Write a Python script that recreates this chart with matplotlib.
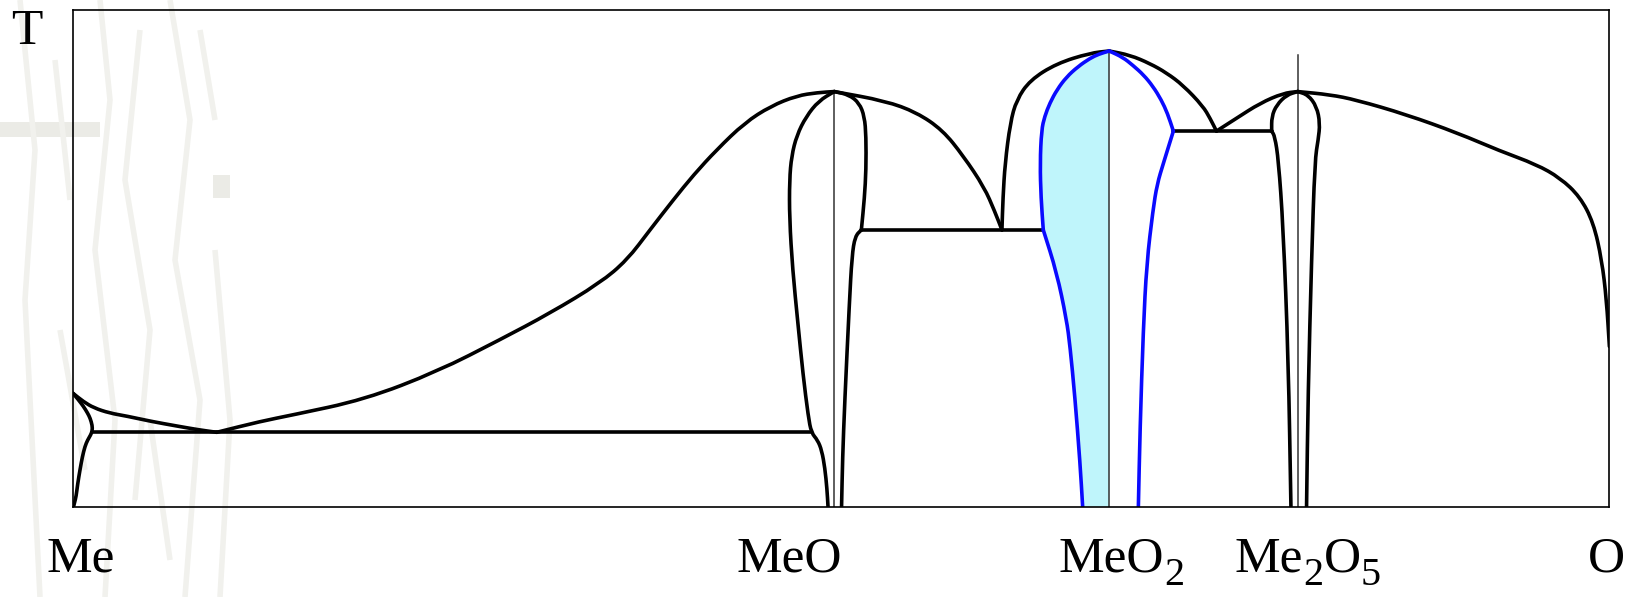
import matplotlib
matplotlib.use("Agg")
import matplotlib.pyplot as plt
from matplotlib.lines import Line2D
from matplotlib.patches import Rectangle, PathPatch
from matplotlib.path import Path

plt.rcParams['font.family'] = ['Liberation Serif', 'DejaVu Serif']

# ---------------- data (composition units 0..1475, temperature units 0..477) ----------------
# Me-rich liquidus (from Me melting point to eutectic)
me_liq_x = [0, 10, 20, 35, 52, 75, 100, 120, 138]
me_liq_T = [109, 101, 95, 90, 87, 82, 77.5, 74, 71.5]
# Me solid-solution boundary
me_ss_x = [0, 5, 10, 14, 16.5, 18.5, 18.5, 17, 14, 11.5, 9, 6.8, 4.5, 3, 1.5, 0.5]
me_ss_T = [109, 103, 96.5, 90, 85, 78, 73, 69, 64, 58, 48, 36, 22, 10, 4, 0]
# Me - MeO eutectic horizontal
eut1_x = [18.5, 709]
eut1_T = [71.5, 71.5]
# liquidus eutectic -> MeO
liq_meo_l_x = [138, 180, 210, 280, 350, 410, 458, 506, 532, 554, 576.5, 596, 618, 645, 670, 695, 715, 731]
liq_meo_l_T = [71.5, 82, 88, 103, 130, 160.5, 186, 215, 237, 266, 295, 319, 343, 369, 385, 395, 398, 399]
# MeO left phase boundary
meo_l_x = [731, 716, 704, 695, 690, 688, 688, 691, 696, 701, 706, 709, 715, 719, 722, 724, 725]
meo_l_T = [399, 390, 375, 357, 337, 314, 277, 228, 177, 127, 87, 71, 64, 54, 37, 17, 0]
# MeO right phase boundary (kink at the peritectic line, index 7)
meo_r_x = [731, 745, 755, 760, 761.5, 761.5, 760, 757, 751, 748, 745.5, 741, 739, 738]
meo_r_T = [399, 396, 388, 375, 356, 324, 297, 266, 260, 241, 196, 100, 47, 0]
# liquidus MeO -> eutectic
liq_meo_r_x = [731, 780, 810, 835, 855, 875, 885, 892]
liq_meo_r_T = [399, 390, 379, 362, 337, 307, 284, 266]
# MeO - MeO2 horizontal
eut2_x = [757, 931.7]
eut2_T = [266, 266]
# liquidus eutectic -> MeO2
liq_meo2_l_x = [892, 893, 895, 900, 906, 919, 944.5, 976.6, 995]
liq_meo2_l_T = [266, 297, 330, 369, 391, 410, 426, 436, 438]
# liquidus MeO2 -> eutectic
liq_meo2_r_x = [995, 1015, 1034, 1050, 1066, 1085, 1092, 1098]
liq_meo2_r_T = [438, 434, 426, 417, 405, 385, 373, 361]
# MeO2 phase boundaries (blue); kinks at index 11 (left) and 7 (right)
meo2_l_x = [995, 985, 976.6, 965, 954, 945, 938, 933, 930, 928.6, 929.5, 931.7, 944.6, 954, 957.4, 962, 967, 969.5]
meo2_l_T = [438, 435, 431, 423, 413, 401, 388, 375, 362, 330, 297, 266, 225, 180, 154, 106, 42, 0]
meo2_r_x = [995, 1008, 1018, 1028, 1037, 1045, 1051, 1056.6, 1047, 1041, 1037, 1031, 1027.7, 1024.6, 1023]
meo2_r_T = [438, 432, 424, 415, 404, 391, 378, 361, 330, 310, 285, 234, 170, 74, 0]
# MeO2 - Me2O5 horizontal
eut3_x = [1056.6, 1151]
eut3_T = [361, 361]
# liquidus eutectic -> Me2O5
liq_m2o5_l_x = [1098, 1117.3, 1139.8, 1162, 1176]
liq_m2o5_l_T = [361, 373.4, 387.8, 397.4, 399]
# liquidus Me2O5 -> O
liq_m2o5_r_x = [1176, 1207, 1232, 1280, 1330, 1370, 1405, 1428, 1447, 1460, 1468, 1472.5, 1475.3]
liq_m2o5_r_T = [399, 396, 391, 377, 359, 342, 329, 316, 298, 273, 237, 199, 154]
# Me2O5 phase boundaries (left has kink at index 4)
m2o5_l_x = [1176, 1165.4, 1155.8, 1151, 1151, 1154, 1157.5, 1162, 1167, 1169.5]
m2o5_l_T = [399, 395.8, 386.2, 375, 361, 356, 333.4, 269.4, 141.4, 0]
m2o5_r_x = [1176, 1186, 1194.2, 1197.4, 1195.7, 1192.5, 1189.3, 1186, 1184.5]
m2o5_r_T = [399, 395.8, 384.6, 368.6, 352.6, 333.4, 237.4, 109.4, 0]
# compound composition lines
comp_x = [731, 995, 1176]
comp_top = [399, 438, 434]

# ---------------- figure ----------------
W, H = 1633, 597
fig = plt.figure(figsize=(W / 100, H / 100), dpi=100)
fig.patch.set_facecolor('white')

# faint background watermark strokes (figure pixels from top-left)
wm_col = '#f1f1ed'
fig.add_artist(Rectangle((0 / W, 1 - 137 / H), 100 / W, 15 / H, transform=fig.transFigure,
                         facecolor='#ebebe6', edgecolor='none', zorder=0))
fig.add_artist(Rectangle((213 / W, 1 - 198 / H), 17 / W, 23 / H, transform=fig.transFigure,
                         facecolor='#ebebe6', edgecolor='none', zorder=0))
strokes = [
    [(20, 0), (35, 150), (25, 300), (40, 597)],
    [(55, 60), (70, 200)],
    [(100, 0), (110, 100), (95, 250), (115, 420), (105, 597)],
    [(140, 30), (125, 180), (150, 330), (135, 500)],
    [(170, 0), (190, 120), (175, 260), (200, 400), (185, 597)],
    [(215, 250), (230, 420), (220, 597)],
    [(60, 330), (85, 470)],
    [(150, 420), (170, 560)],
    [(200, 30), (215, 120)],
]
for s in strokes:
    xs = [p[0] / W for p in s]
    ys = [1 - p[1] / H for p in s]
    fig.add_artist(Line2D(xs, ys, transform=fig.transFigure, color=wm_col, lw=4,
                          solid_capstyle='butt', zorder=0))

ax = fig.add_axes([73 / W, 1 - 506.7 / H, (1609.4 - 73) / W, (506.7 - 10) / H])
ax.set_facecolor('none')
ax.set_xlim(0, 1475.3)
ax.set_ylim(0, 477.4)
ax.set_xticks([])
ax.set_yticks([])
for sp in ax.spines.values():
    sp.set_linewidth(1.2)
    sp.set_zorder(5)


def smooth(xs, ys, **kw):
    """Draw a smooth quadratic B-spline style path through the given points."""
    pts = list(zip(xs, ys))
    if len(pts) < 3:
        verts, codes = pts, [Path.MOVETO] + [Path.LINETO] * (len(pts) - 1)
    else:
        verts = [pts[0]]
        codes = [Path.MOVETO]
        m = ((pts[0][0] + pts[1][0]) / 2, (pts[0][1] + pts[1][1]) / 2)
        verts.append(m)
        codes.append(Path.LINETO)
        for i in range(1, len(pts) - 1):
            nm = ((pts[i][0] + pts[i + 1][0]) / 2, (pts[i][1] + pts[i + 1][1]) / 2)
            verts += [pts[i], nm]
            codes += [Path.CURVE3, Path.CURVE3]
        verts.append(pts[-1])
        codes.append(Path.LINETO)
    ax.add_patch(PathPatch(Path(verts, codes), fill=False, capstyle='round',
                           joinstyle='round', **kw))


# cyan filled MeO2 region
ax.fill(meo2_l_x + [995], meo2_l_T + [0], color='#bff5fb', lw=0, zorder=1)

# thin composition lines
for cx, ct in zip(comp_x, comp_top):
    ax.plot([cx, cx], [0, ct], color='#333333', lw=1.1, zorder=2)

blk = dict(edgecolor='black', lw=2.6, zorder=3)
curves = [
    (me_liq_x, me_liq_T), (me_ss_x, me_ss_T), (eut1_x, eut1_T),
    (liq_meo_l_x, liq_meo_l_T), (meo_l_x, meo_l_T),
    (meo_r_x[:8], meo_r_T[:8]), (meo_r_x[7:], meo_r_T[7:]),
    (liq_meo_r_x, liq_meo_r_T), (eut2_x, eut2_T),
    (liq_meo2_l_x, liq_meo2_l_T), (liq_meo2_r_x, liq_meo2_r_T),
    (eut3_x, eut3_T), (liq_m2o5_l_x, liq_m2o5_l_T), (liq_m2o5_r_x, liq_m2o5_r_T),
    (m2o5_l_x[:5], m2o5_l_T[:5]), (m2o5_l_x[4:], m2o5_l_T[4:]), (m2o5_r_x, m2o5_r_T),
]
for xs, ts in curves:
    smooth(xs, ts, **blk)

blu = dict(edgecolor='#0a0aff', lw=2.6, zorder=4)
smooth(meo2_l_x[:12], meo2_l_T[:12], **blu)
smooth(meo2_l_x[11:], meo2_l_T[11:], **blu)
smooth(meo2_r_x[:8], meo2_r_T[:8], **blu)
smooth(meo2_r_x[7:], meo2_r_T[7:], **blu)

# ---------------- labels ----------------
renderer = fig.canvas.get_renderer()
FS = 37


def draw_label(x_px, base_px, pieces):
    x = x_px
    for txt, sub in pieces:
        fs = FS * 0.78 if sub else FS
        y = base_px + (13 if sub else 0)
        t = fig.text(x / W, 1 - y / H, txt, fontsize=fs, ha='left', va='baseline')
        bb = t.get_window_extent(renderer)
        x = bb.x1


draw_label(11, 44, [('T', False)])
draw_label(47, 572, [('Me', False)])
draw_label(737, 572, [('MeO', False)])
draw_label(1059, 572, [('MeO', False), ('2', True)])
draw_label(1235, 572, [('Me', False), ('2', True), ('O', False), ('5', True)])
draw_label(1588, 572, [('O', False)])

fig.savefig('out.png', dpi=100, facecolor='white')
